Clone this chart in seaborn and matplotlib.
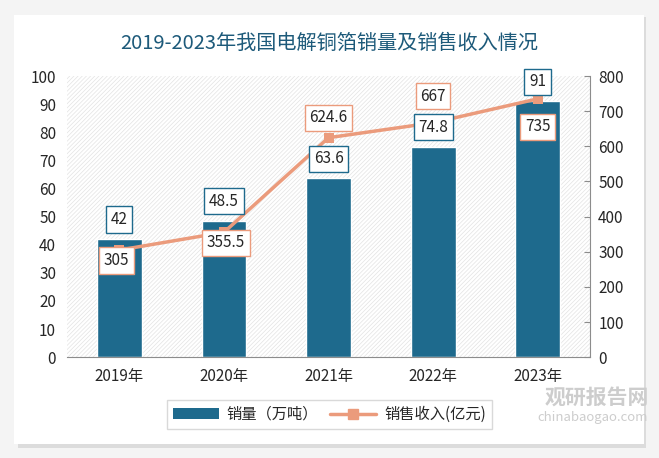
import matplotlib
matplotlib.use("Agg")
import matplotlib.pyplot as plt
import seaborn as sns
import pandas as pd
from matplotlib.patches import Rectangle, FancyBboxPatch
from matplotlib.lines import Line2D
from matplotlib.patches import Patch

years = ["2019年", "2020年", "2021年", "2022年", "2023年"]
sales_volume = [42, 48.5, 63.6, 74.8, 91]          # 万吨
sales_revenue = [305, 355.5, 624.6, 667, 735]      # 亿元

BAR_COLOR = "#1e6a8d"
LINE_COLOR = "#eb9b7c"
TITLE_COLOR = "#1d5a7a"

sns.set_style("white")
plt.rcParams["font.family"] = ["Noto Sans CJK SC", "DejaVu Sans"]
plt.rcParams["hatch.linewidth"] = 0.5

df = pd.DataFrame({"year": years, "volume": sales_volume, "revenue": sales_revenue})

fig = plt.figure(figsize=(6.59, 4.58), dpi=100)
fig.patch.set_facecolor("#f4f4f4")

# white card with soft shadow
fig.patches.append(FancyBboxPatch((0.028, 0.022), 0.952, 0.94, boxstyle="square,pad=0",
                                  transform=fig.transFigure, facecolor="#dcdcdc",
                                  edgecolor="none", zorder=-2))
fig.patches.append(FancyBboxPatch((0.022, 0.03), 0.955, 0.937, boxstyle="square,pad=0",
                                  transform=fig.transFigure, facecolor="white",
                                  edgecolor="none", zorder=-1))

ax = fig.add_axes([0.102, 0.22, 0.793, 0.614])
ax.set_facecolor("none")
ax.add_patch(Rectangle((0, 0), 1, 1, transform=ax.transAxes, facecolor="white",
                       edgecolor="#e3e3e3", hatch="////////", linewidth=0, zorder=0))

sns.barplot(data=df, x="year", y="volume", color=BAR_COLOR, width=0.43,
            saturation=1, ax=ax, zorder=2, edgecolor="white", linewidth=1)
ax.set_ylim(0, 100)
ax.set_yticks(range(0, 101, 10))
ax.set_xlim(-0.5, 4.5)
ax.set_xlabel("")
ax.set_ylabel("")

ax2 = ax.twinx()
sns.lineplot(data=df, x="year", y="revenue", color=LINE_COLOR, linewidth=2.5,
             marker="s", markersize=7, markeredgewidth=0, ax=ax2, zorder=3, sort=False)
ax2.set_ylim(0, 800)
ax2.set_yticks(range(0, 801, 100))
ax2.set_ylabel("")
ax2.set_xlim(-0.5, 4.5)

for a in (ax, ax2):
    for s in ("top", "left", "right"):
        a.spines[s].set_visible(False)
    a.spines["bottom"].set_color("#8c8c8c")
ax2.spines["right"].set_visible(True)
ax2.spines["right"].set_color("#8c8c8c")
ax2.spines["bottom"].set_visible(False)

ax.tick_params(axis="y", length=0, labelsize=11, pad=8)
ax.tick_params(axis="x", length=0, labelsize=11, pad=8)
ax2.tick_params(axis="y", direction="in", length=4, color="#8c8c8c", labelsize=11, pad=6)

# data labels, all drawn on the top axes so the line never covers them
def boxed(x, y, text, edge, trans):
    ax2.text(x, y, text, ha="center", va="center", fontsize=11, zorder=6, transform=trans,
             bbox=dict(boxstyle="square,pad=0.3", facecolor="white", edgecolor=edge, linewidth=1))

# volume labels sit just above each bar
for i, v in enumerate(sales_volume):
    boxed(i, v + 7, f"{v:g}", BAR_COLOR, ax.transData)

rev_offsets = [(-0.03, -30), (0.02, -30), (0, 56), (0, 76), (0, -80)]
for i, r in enumerate(sales_revenue):
    dx, dy = rev_offsets[i]
    boxed(i + dx, r + dy, f"{r:g}", LINE_COLOR, ax2.transData)

fig.text(0.5, 0.905, "2019-2023年我国电解铜箔销量及销售收入情况", ha="center", va="center",
         fontsize=14.5, color=TITLE_COLOR, fontweight="medium")

handles = [Patch(facecolor=BAR_COLOR, edgecolor="none"),
           Line2D([0], [0], color=LINE_COLOR, linewidth=2.5, marker="s", markersize=7)]
fig.legend(handles, ["销量（万吨）", "销售收入(亿元)"], loc="center", ncol=2,
           bbox_to_anchor=(0.5, 0.095), fontsize=11, frameon=True, edgecolor="#d0d0d0",
           fancybox=False, handlelength=3, columnspacing=0.8, handletextpad=0.5,
           borderpad=0.4)

# watermark
fig.text(0.905, 0.132, "观研报告网", fontsize=15, color="#cdcdcd", fontweight="bold",
         ha="center", va="center", zorder=10)
fig.text(0.9, 0.088, "chinabaogao.com", fontsize=9.5, color="#cdcdcd",
         ha="center", va="center", zorder=10)

fig.savefig("out.png", dpi=100)
